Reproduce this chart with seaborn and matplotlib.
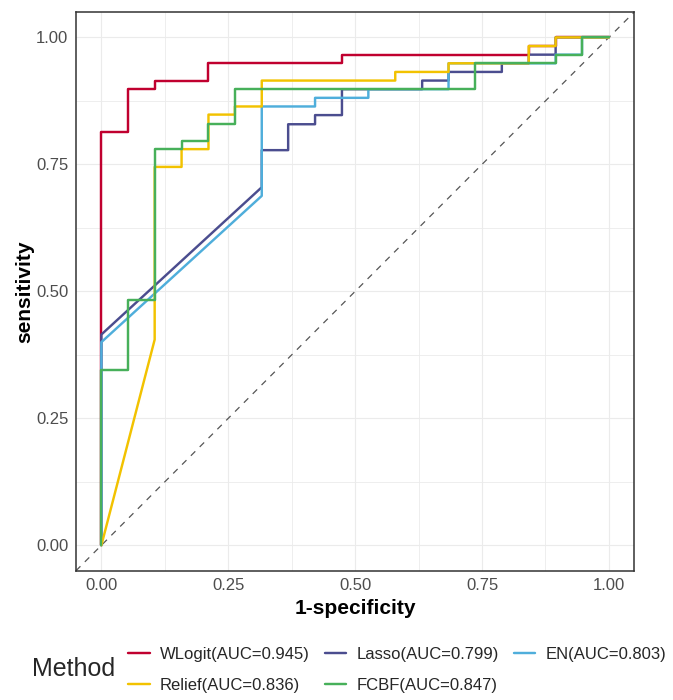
import pandas as pd
import matplotlib
matplotlib.use("Agg")
import matplotlib.pyplot as plt
import seaborn as sns
from matplotlib.lines import Line2D

# ── Data: ROC curves (1-specificity, sensitivity) ──
methods = ["WLogit", "Lasso", "EN", "Relief", "FCBF"]
auc = [0.945, 0.799, 0.803, 0.836, 0.847]
colors = ["#C0002F", "#4B4D8F", "#4FAEDB", "#F2C200", "#47B05A"]

wlogit_fpr = [0, 0, 0.053, 0.053, 0.105, 0.105, 0.211, 0.211, 0.474, 0.474, 0.842, 0.842, 0.895, 0.895, 1]
wlogit_tpr = [0, 0.814, 0.814, 0.898, 0.898, 0.915, 0.915, 0.949, 0.949, 0.966, 0.966, 0.983, 0.983, 1, 1]

lasso_fpr = [0, 0, 0.316, 0.316, 0.368, 0.368, 0.421, 0.421, 0.474, 0.474, 0.632, 0.632, 0.684, 0.684,
             0.789, 0.789, 0.842, 0.842, 0.895, 0.895, 1]
lasso_tpr = [0, 0.415, 0.705, 0.778, 0.778, 0.829, 0.829, 0.847, 0.847, 0.898, 0.898, 0.915, 0.915, 0.932,
             0.932, 0.949, 0.949, 0.966, 0.966, 1, 1]

en_fpr = [0, 0, 0.316, 0.316, 0.421, 0.421, 0.526, 0.526, 0.684, 0.684, 0.895, 0.895, 0.947, 0.947, 1]
en_tpr = [0, 0.400, 0.688, 0.864, 0.864, 0.881, 0.881, 0.898, 0.898, 0.949, 0.949, 0.966, 0.966, 1, 1]

relief_fpr = [0, 0.105, 0.105, 0.158, 0.158, 0.211, 0.211, 0.263, 0.263, 0.316, 0.316, 0.579, 0.579,
              0.684, 0.684, 0.842, 0.842, 0.895, 0.895, 1]
relief_tpr = [0, 0.405, 0.745, 0.745, 0.780, 0.780, 0.848, 0.848, 0.864, 0.864, 0.915, 0.915, 0.932,
              0.932, 0.949, 0.949, 0.983, 0.983, 1, 1]

fcbf_fpr = [0, 0, 0.053, 0.053, 0.105, 0.105, 0.158, 0.158, 0.211, 0.211, 0.263, 0.263, 0.737, 0.737,
            0.895, 0.895, 0.947, 0.947, 1]
fcbf_tpr = [0, 0.345, 0.345, 0.483, 0.483, 0.780, 0.780, 0.796, 0.796, 0.829, 0.829, 0.898, 0.898, 0.949,
            0.949, 0.966, 0.966, 1, 1]

curves = [(wlogit_fpr, wlogit_tpr), (lasso_fpr, lasso_tpr), (en_fpr, en_tpr),
          (relief_fpr, relief_tpr), (fcbf_fpr, fcbf_tpr)]

labels = [f"{m}(AUC={a:.3f})" for m, a in zip(methods, auc)]

rows = []
for lab, (fpr, tpr) in zip(labels, curves):
    for x, y in zip(fpr, tpr):
        rows.append({"Method": lab, "fpr": x, "tpr": y})
df = pd.DataFrame(rows)

# ── Style ──
sns.set_style("white")
plt.rcParams["font.family"] = ["Liberation Sans", "DejaVu Sans"]

fig = plt.figure(figsize=(6.73, 7.0), dpi=100)
ax = fig.add_axes([76 / 673, 1 - 570.7 / 700, (634.3 - 76) / 673, (570.7 - 12) / 700])

# diagonal reference line
ax.axline((0, 0), (1, 1), color="#555555", lw=0.9, ls=(0, (5, 5)), zorder=1)

sns.lineplot(data=df, x="fpr", y="tpr", hue="Method", hue_order=labels, palette=colors,
             sort=False, estimator=None, linewidth=1.75, legend=False, ax=ax, zorder=3)

ax.set_xlim(-0.05, 1.05)
ax.set_ylim(-0.05, 1.05)
ticks = [0, 0.25, 0.5, 0.75, 1.0]
ax.set_xticks(ticks)
ax.set_yticks(ticks)
ax.set_xticklabels([f"{t:.2f}" for t in ticks])
ax.set_yticklabels([f"{t:.2f}" for t in ticks])
ax.set_xticks([0.125, 0.375, 0.625, 0.875], minor=True)
ax.set_yticks([0.125, 0.375, 0.625, 0.875], minor=True)
ax.grid(which="major", color="#EBEBEB", lw=0.8)
ax.grid(which="minor", color="#EBEBEB", lw=0.6)
ax.set_axisbelow(True)
ax.tick_params(which="major", length=2.5, width=0.8, color="#333333",
               labelsize=12, labelcolor="#4D4D4D", pad=3)
ax.tick_params(which="minor", length=0)
for s in ax.spines.values():
    s.set_color("#333333")
    s.set_linewidth(1.1)

ax.set_xlabel("1-specificity", fontsize=15, fontweight="bold", color="black", labelpad=4)
ax.set_ylabel("sensitivity", fontsize=15, fontweight="bold", color="black", labelpad=1)

# ── Legend at bottom (column-major fill: order handles so rows read WLogit, Lasso, EN / Relief, FCBF) ──
order = [0, 3, 1, 4, 2]
handles = [Line2D([], [], color=colors[i], lw=1.75) for i in order]
fig.legend(handles, [labels[i] for i in order], ncol=3, loc="upper left",
           bbox_to_anchor=(128 / 673, 1 - 647 / 700), frameon=False, fontsize=12,
           handlelength=1.3, handletextpad=0.6, columnspacing=0.9, labelspacing=0.95,
           borderpad=0, borderaxespad=0)
fig.text(32 / 673, 1 - 669 / 700, "Method", fontsize=18, ha="left", va="center")

fig.savefig("out.png", dpi=100)
